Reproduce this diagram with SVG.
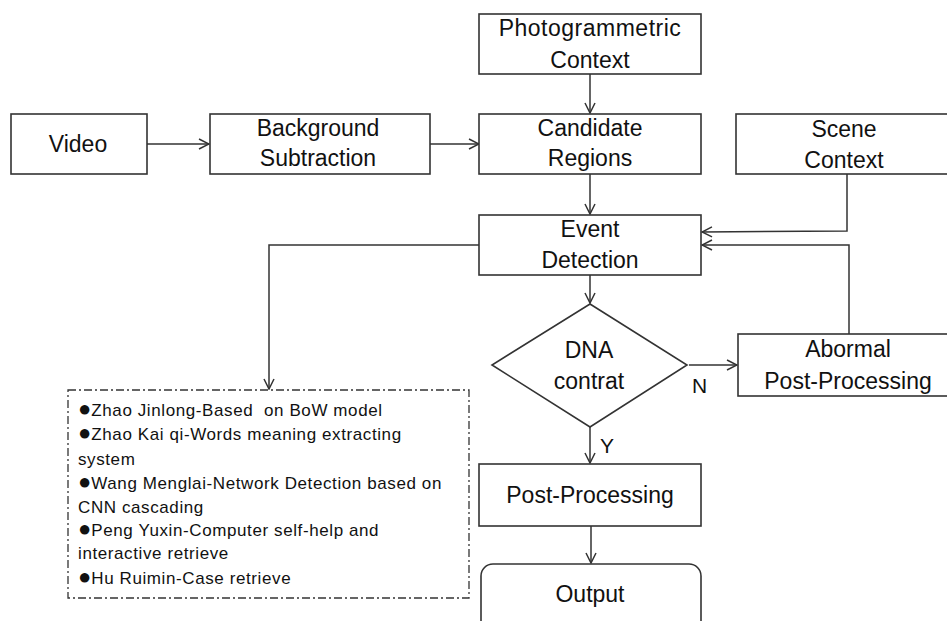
<svg xmlns="http://www.w3.org/2000/svg" width="947" height="621" viewBox="0 0 947 621">
<style>
.box{fill:#fff;stroke:#333;stroke-width:1.6}
.lbl{font-family:"Liberation Sans",Arial,sans-serif;font-size:23px;fill:#111;text-anchor:middle;dominant-baseline:central}
.yn{font-family:"Liberation Sans",Arial,sans-serif;font-size:21px;fill:#111;dominant-baseline:central}
.bul{font-family:"Liberation Sans",Arial,sans-serif;font-size:17px;letter-spacing:0.6px;fill:#111;white-space:pre}
.dot{font-size:22px;letter-spacing:0}
.con{fill:none;stroke:#333;stroke-width:1.5;marker-end:url(#ah)}
</style>
<defs>
<marker id="ah" viewBox="0 0 12 12" refX="11" refY="6" markerWidth="12" markerHeight="12" markerUnits="userSpaceOnUse" orient="auto">
<path d="M1,1 L11,6 L1,11" fill="none" stroke="#333" stroke-width="1.5"/>
</marker>
</defs>
<rect width="947" height="621" fill="#fff"/>
<g id="connectors">
<path class="con" d="M147,144 L209,144"/>
<path class="con" d="M430,144 L479,144"/>
<path class="con" d="M590,74 L590,113"/>
<path class="con" d="M590,174 L590,214"/>
<path class="con" d="M847,174 L847,231 L702,232"/>
<path class="con" d="M849,334 L849,245 L702,245"/>
<path class="con" d="M479,245 L269,245 L269,389"/>
<path class="con" d="M590,275 L590,303"/>
<path class="con" d="M689,365 L737,365"/>
<path class="con" d="M590,427 L590,463"/>
<path class="con" d="M591,526 L591,563"/>
</g>
<g id="video"><rect class="box" x="11" y="114" width="136" height="60"/><text class="lbl" x="78" y="144">Video</text></g>
<g id="bg"><rect class="box" x="210" y="114" width="220" height="60"/><text class="lbl" x="318" y="128">Background</text><text class="lbl" x="318" y="158">Subtraction</text></g>
<g id="photo"><rect class="box" x="479" y="14" width="222" height="60"/><text class="lbl" x="590" y="28" letter-spacing="0.5">Photogrammetric</text><text class="lbl" x="590" y="60">Context</text></g>
<g id="candidate"><rect class="box" x="479" y="114" width="222" height="60"/><text class="lbl" x="590" y="128">Candidate</text><text class="lbl" x="590" y="158">Regions</text></g>
<g id="scene"><rect class="box" x="736" y="114" width="215" height="60"/><text class="lbl" x="844" y="129">Scene</text><text class="lbl" x="844" y="160">Context</text></g>
<g id="event"><rect class="box" x="479" y="215" width="222" height="60"/><text class="lbl" x="590" y="229">Event</text><text class="lbl" x="590" y="260">Detection</text></g>
<g id="dna"><polygon class="box" points="590,304 687,365 590,427 492,365"/><text class="lbl" x="589" y="350">DNA</text><text class="lbl" x="589" y="381">contrat</text></g>
<text class="yn" x="692" y="385">N</text>
<text class="yn" x="600" y="445">Y</text>
<g id="abnormal"><rect class="box" x="738" y="334" width="213" height="62"/><text class="lbl" x="848" y="349">Abormal</text><text class="lbl" x="848" y="381">Post-Processing</text></g>
<g id="post"><rect class="box" x="479" y="464" width="222" height="62"/><text class="lbl" x="590" y="495">Post-Processing</text></g>
<g id="output"><rect class="box" x="481" y="564" width="220" height="70" rx="12"/><text class="lbl" x="590" y="594">Output</text></g>
<g id="list">
<rect x="68" y="390" width="401" height="208" fill="none" stroke="#333" stroke-width="1.3" stroke-dasharray="8,3,2,3"/>
<text class="bul" x="78" y="416"><tspan class="dot">●</tspan>Zhao Jinlong-Based  on BoW model</text>
<text class="bul" x="78" y="440"><tspan class="dot">●</tspan>Zhao Kai qi-Words meaning extracting</text>
<text class="bul" x="78" y="465">system</text>
<text class="bul" x="78" y="489"><tspan class="dot">●</tspan>Wang Menglai-Network Detection based on</text>
<text class="bul" x="78" y="513">CNN cascading</text>
<text class="bul" x="78" y="536"><tspan class="dot">●</tspan>Peng Yuxin-Computer self-help and</text>
<text class="bul" x="78" y="559">interactive retrieve</text>
<text class="bul" x="78" y="584"><tspan class="dot">●</tspan>Hu Ruimin-Case retrieve</text>
</g>
</svg>
